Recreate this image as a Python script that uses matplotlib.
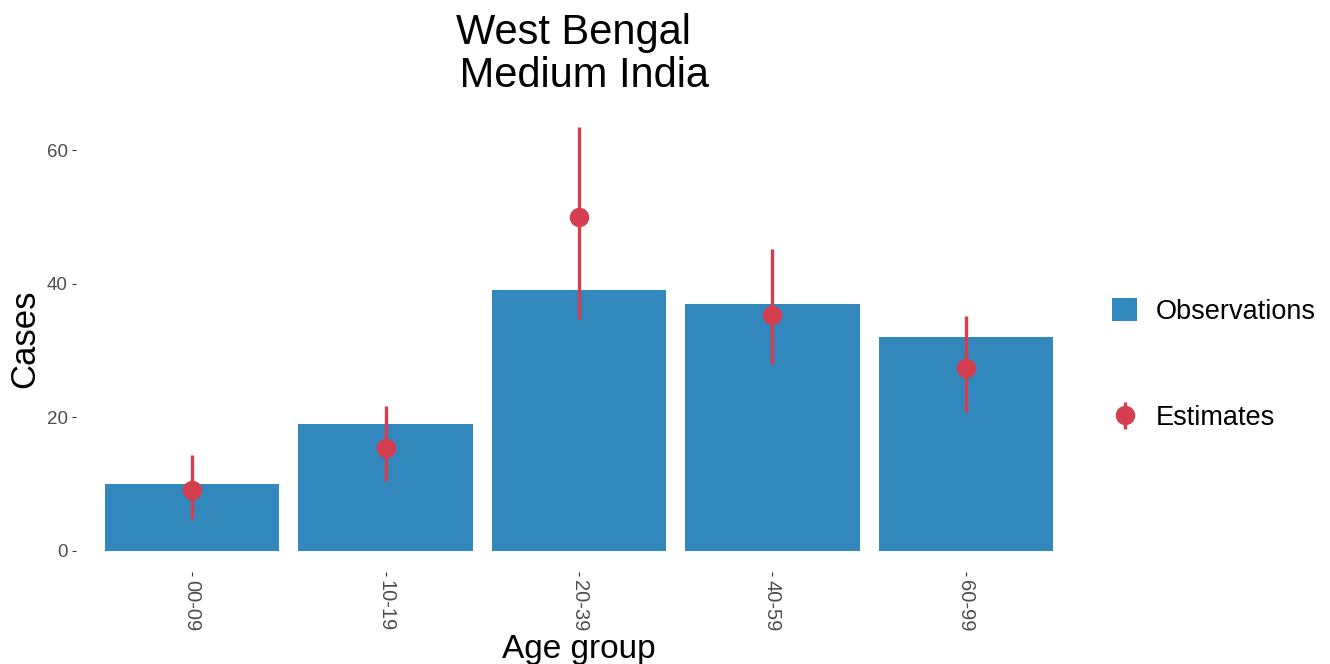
import matplotlib
matplotlib.use("Agg")
import matplotlib.pyplot as plt
from matplotlib.patches import Patch
import numpy as np

plt.rcParams["font.family"] = ["Liberation Sans", "DejaVu Sans"]

# data
age_groups = ["00-09", "10-19", "20-39", "40-59", "60-99"]
observations = [10, 19, 39, 37, 32]
estimates = [9.1, 15.4, 50.0, 35.3, 27.4]
est_low = [4.8, 10.5, 34.7, 28.0, 20.8]
est_high = [14.4, 21.7, 63.4, 45.2, 35.2]

bar_col = "#3288BD"
pt_col = "#D53E4F"

W, H = 1330, 664
fig = plt.figure(figsize=(W / 100, H / 100), dpi=100)
ax = fig.add_axes([76 / W, (H - 572) / H, (1082 - 76) / W, (572 - 106) / H])

x = np.arange(len(age_groups))
ax.bar(x, observations, width=0.9, color=bar_col, label="Observations")
yerr = [np.array(estimates) - np.array(est_low), np.array(est_high) - np.array(estimates)]
eb = ax.errorbar(x, estimates, yerr=yerr, fmt="o", color=pt_col, ecolor=pt_col,
                 elinewidth=2.4, markersize=13, capsize=0, label="Estimates")

ax.set_xlim(-0.6, len(age_groups) - 0.4)
ax.set_ylim(-3.17, 66.6)
ax.set_yticks([0, 20, 40, 60])
ax.set_xticks(x)
ax.set_xticklabels(age_groups, rotation=270)
ax.tick_params(axis="both", colors="#333333", labelcolor="#4d4d4d", labelsize=13.5,
               length=3, width=0.8, pad=3)
ax.tick_params(axis="x", labelsize=14.5)
for s in ax.spines.values():
    s.set_visible(False)

ax.set_xlabel("Age group", fontsize=24)
ax.set_ylabel("Cases", fontsize=25, labelpad=4)
ax.xaxis.set_label_coords(0.5, -0.133)

fig.text(579 / W, 1 - 13 / H, "West Bengal \n Medium India", ha="center", va="top",
         fontsize=30, linespacing=1.09)

handles = [Patch(facecolor=bar_col, edgecolor="none"), eb]
fig.legend(handles, ["Observations", "Estimates"], loc="upper left",
           bbox_to_anchor=(1088 / W, 1 - 274 / H), frameon=False, fontsize=19.5,
           labelspacing=2.95, handlelength=0.9, handleheight=0.9, handletextpad=0.7)

fig.savefig("out.png", dpi=100)
